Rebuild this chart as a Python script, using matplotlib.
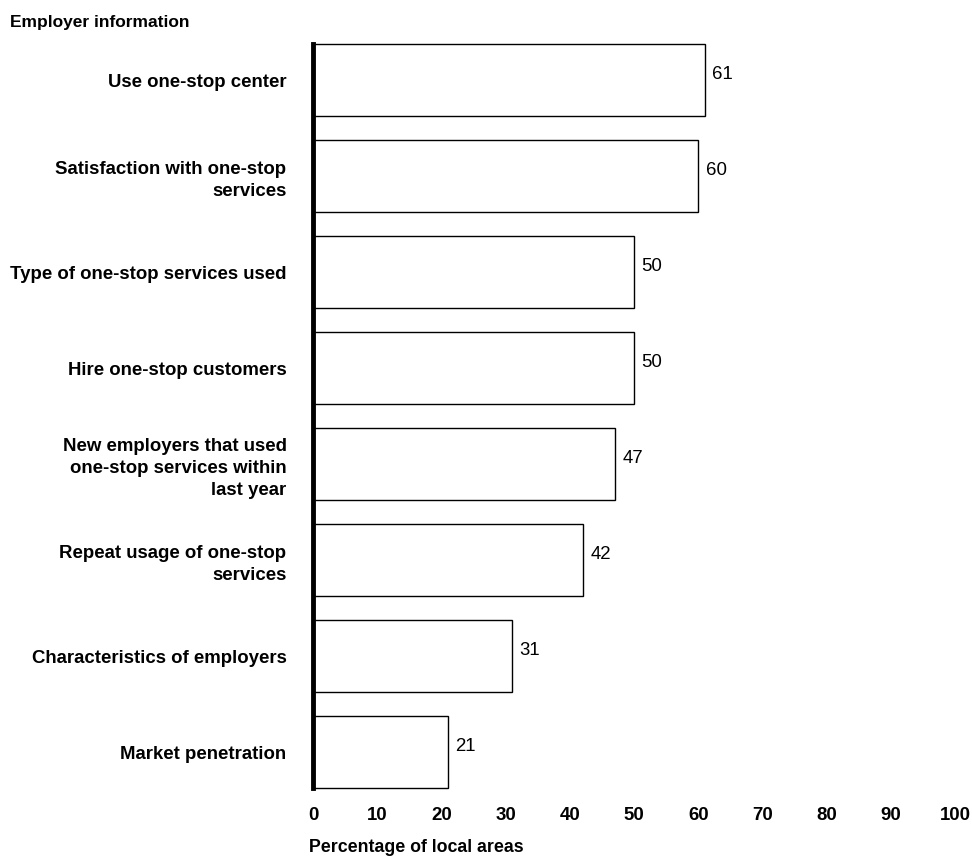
import matplotlib
matplotlib.use("Agg")
import matplotlib.pyplot as plt

plt.rcParams['font.family'] = ['Liberation Sans', 'DejaVu Sans']

categories = [
    "Use one-stop center",
    "Satisfaction with one-stop\nservices",
    "Type of one-stop services used",
    "Hire one-stop customers",
    "New employers that used\none-stop services within\nlast year",
    "Repeat usage of one-stop\nservices",
    "Characteristics of employers",
    "Market penetration",
]
values = [61, 60, 50, 50, 47, 42, 31, 21]
xticks = [0, 10, 20, 30, 40, 50, 60, 70, 80, 90, 100]

fs = 13.4
fig = plt.figure(figsize=(9.72, 8.56), dpi=100)
ax = fig.add_axes([0.322, 0.0794, 0.6605, 0.8692])

y = range(len(categories))
ax.barh(y, values, height=0.75, color='white', edgecolor='black', linewidth=1.0, clip_on=False)
for yi, v in zip(y, values):
    ax.text(v + 1.2, yi - 0.06, str(v), va='center', ha='left', fontsize=fs)

ax.set_xlim(0, 100)
ax.set_ylim(len(categories) - 0.625, -0.375)
ax.set_yticks(list(y))
ax.set_yticklabels(categories, fontsize=fs, fontweight='bold', ha='right', linespacing=1.4)
ax.set_xticks(xticks)
ax.set_xticklabels([str(t) for t in xticks], fontsize=fs, fontweight='bold')
ax.tick_params(axis='both', length=0)
ax.tick_params(axis='y', pad=19)
ax.tick_params(axis='x', pad=14)

for side in ['top', 'right', 'bottom']:
    ax.spines[side].set_visible(False)
ax.spines['left'].set_linewidth(3.5)

fig.text(0.0103, 0.974, "Employer information", fontsize=12.5, fontweight='bold', va='center', ha='left')
fig.text(0.318, 0.01, "Percentage of local areas", fontsize=12.8, fontweight='bold', va='center', ha='left')

fig.savefig("out.png", dpi=100)
